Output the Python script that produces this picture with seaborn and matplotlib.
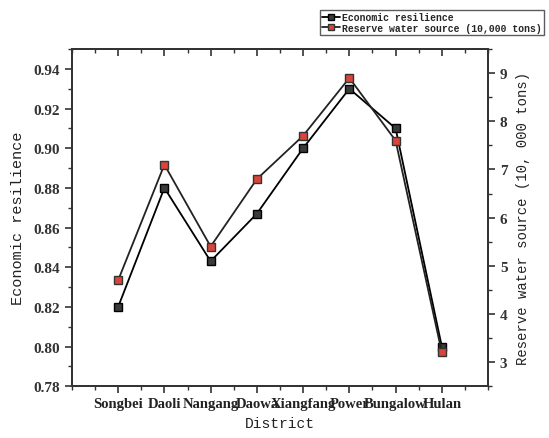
import matplotlib
matplotlib.use("Agg")
import matplotlib.pyplot as plt
import seaborn as sns
import pandas as pd
from matplotlib.ticker import MultipleLocator
from matplotlib.lines import Line2D

districts = ["Songbei", "Daoli", "Nangang", "Daowa", "Xiangfang", "Power", "Bungalow", "Hulan"]
econ_resilience = [0.820, 0.880, 0.843, 0.867, 0.900, 0.930, 0.910, 0.800]
reserve_water = [4.7, 7.1, 5.4, 6.8, 7.7, 8.9, 7.6, 3.2]

sns.set_style("ticks")
plt.rcParams['font.family'] = ['Liberation Serif', 'DejaVu Serif']
MONO = ["Liberation Mono", "DejaVu Sans Mono"]

pos = list(range(1, len(districts) + 1))
df = pd.DataFrame({"pos": pos, "district": districts,
                   "econ": econ_resilience, "water": reserve_water})

fig = plt.figure(figsize=(5.49, 4.39), dpi=100)
ax = fig.add_axes([0.131, 0.118, 0.758, 0.768])
ax2 = ax.twinx()

sns.lineplot(data=df, x="pos", y="econ", ax=ax, color="black", lw=1.3,
             marker="s", markersize=6, markerfacecolor="#3a3a3a",
             markeredgecolor="black", markeredgewidth=1.0, zorder=3)
sns.lineplot(data=df, x="pos", y="water", ax=ax2, color="#222222", lw=1.3,
             marker="s", markersize=6, markerfacecolor="#d9453a",
             markeredgecolor="#333333", markeredgewidth=1.0, zorder=3)

ax.set_xlim(0, 9)
ax.set_ylim(0.78, 0.95)
ax2.set_ylim(2.5, 9.5)

ax.set_xticks(pos)
ax.set_xticklabels(districts, fontsize=10.5, fontweight="bold")
ax.xaxis.set_minor_locator(MultipleLocator(0.5))
yt = [0.78, 0.80, 0.82, 0.84, 0.86, 0.88, 0.90, 0.92, 0.94]
ax.set_yticks(yt)
ax.set_yticklabels([f"{v:.2f}" for v in yt], fontsize=11, fontweight="bold")
ax.yaxis.set_minor_locator(MultipleLocator(0.01))
ax2.set_yticks([3, 4, 5, 6, 7, 8, 9])
ax2.set_yticklabels(["3", "4", "5", "6", "7", "8", "9"], fontsize=11, fontweight="bold")
ax2.yaxis.set_minor_locator(MultipleLocator(0.5))

ax.tick_params(axis="both", which="major", direction="out", length=5, width=1.2, colors="#333333")
ax.tick_params(axis="both", which="minor", direction="out", length=3, width=1.0, colors="#333333")
ax.tick_params(axis="x", top=False, which="both")
ax2.tick_params(axis="y", which="major", direction="out", length=5, width=1.2, colors="#333333")
ax2.tick_params(axis="y", which="minor", direction="out", length=3, width=1.0, colors="#333333")
ax.tick_params(axis="x", labelcolor="#222222", pad=3)
ax.tick_params(axis="y", labelcolor="#333333")
ax2.tick_params(axis="y", labelcolor="#333333")

# inward ticks on the top spine
sec = ax.secondary_xaxis("top")
sec.set_xticks(pos)
sec.xaxis.set_minor_locator(MultipleLocator(0.5))
sec.tick_params(axis="x", which="major", direction="in", length=5, width=1.2,
                colors="#333333", labeltop=False)
sec.tick_params(axis="x", which="minor", direction="in", length=3, width=1.0,
                colors="#333333")
sec.spines["top"].set_linewidth(1.3)
sec.spines["top"].set_color("#333333")

for a in (ax, ax2):
    for s in a.spines.values():
        s.set_visible(True)
        s.set_linewidth(1.3)
        s.set_color("#333333")

ax.set_xlabel("District", fontsize=10.5, family=MONO, color="#222222", labelpad=4)
ax.set_ylabel("Economic resilience", fontsize=11, family=MONO, color="#222222", labelpad=6)
ax2.set_ylabel("Reserve water source (10, 000 tons)", fontsize=10,
               family=MONO, color="#222222", labelpad=6)

handles = [
    Line2D([], [], color="black", lw=1.3, marker="s", markersize=4.5,
           markerfacecolor="#3a3a3a", markeredgecolor="black"),
    Line2D([], [], color="#222222", lw=1.3, marker="s", markersize=4.5,
           markerfacecolor="#d9453a", markeredgecolor="#333333"),
]
leg = fig.legend(handles, ["Economic resilience", "Reserve water source (10,000 tons)"],
                 loc="upper right", bbox_to_anchor=(1.0, 0.985), frameon=True,
                 fancybox=False, edgecolor="#333333", handlelength=1.8,
                 handletextpad=0.3, borderpad=0.2, labelspacing=0.05,
                 prop={"family": MONO, "size": 7, "weight": "bold"})
leg.get_frame().set_linewidth(1.0)

fig.savefig("out.png", dpi=100)
